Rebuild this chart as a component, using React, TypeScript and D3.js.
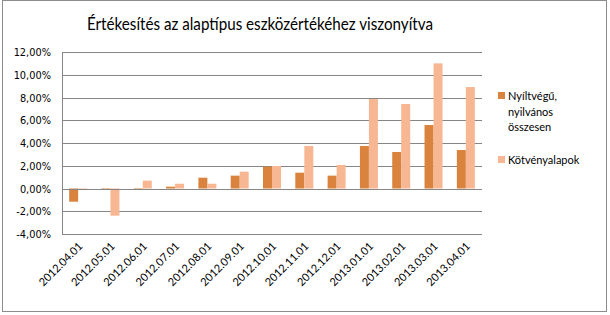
import React from "react";
import * as d3 from "d3";

const categories = [
  "2012.04.01", "2012.05.01", "2012.06.01", "2012.07.01", "2012.08.01", "2012.09.01",
  "2012.10.01", "2012.11.01", "2012.12.01", "2013.01.01", "2013.02.01", "2013.03.01", "2013.04.01",
];
const seriesNames = ["Nyíltvégű, nyilvános összesen", "Kötvényalapok"];
const openEnded = [-1.16, -0.1, -0.12, 0.16, 0.95, 1.13, 1.92, 1.39, 1.13, 3.74, 3.21, 5.58, 3.38];
const bondFunds = [-0.1, -2.39, 0.69, 0.42, 0.42, 1.48, 1.98, 3.74, 2.07, 7.87, 7.43, 11.0, 8.92];
const yTicks = [-4, -2, 0, 2, 4, 6, 8, 10, 12];
const colors = ["#D9833F", "#F8B793"];
const titleText = "Értékesítés az alaptípus eszközértékéhez viszonyítva";

export default function App() {
  const W = 610, H = 315;
  const left = 62, right = 482, top = 52, bottom = 234;
  const x = d3.scaleBand<string>().domain(categories).range([left, right]).paddingInner(0).paddingOuter(0);
  const y = d3.scaleLinear().domain([-4, 12]).range([bottom, top]);
  const inner = d3.scaleBand<number>().domain([0, 1]).range([0, 18]);
  const groupOffset = (x.bandwidth() - 18) / 2;
  const data = [openEnded, bondFunds];
  const fmt = (v: number) => v.toFixed(2).replace(".", ",") + "%";
  const font = "Lato, 'Open Sans', sans-serif";
  const legendLines = ["Nyíltvégű,", "nyilvános", "összesen"];

  return (
    <svg width={W} height={H} style={{ position: "absolute", left: 0, top: 0, background: "#fff" }}>
      <rect x={2.5} y={0.5} width={604} height={311} fill="#fff" stroke="#8c8c8c" />
      <text x={260} y={30} textAnchor="middle" fontFamily={font} fontSize={18} textLength={346} lengthAdjust="spacingAndGlyphs" fill="#000">{titleText}</text>
      {yTicks.map((t) => (
        <g key={t}>
          {t !== 0 && (
            <line x1={left} x2={right} y1={Math.round(y(t)) + 0.5} y2={Math.round(y(t)) + 0.5} stroke="#868686" />
          )}
          <text x={51} y={y(t) + 4} textAnchor="end" fontFamily="'DejaVu Sans', Verdana, sans-serif" fontSize={9.8} fill="#000">{fmt(t)}</text>
        </g>
      ))}
      <line x1={left + 0.5} x2={left + 0.5} y1={top} y2={bottom} stroke="#868686" />
      {data.map((series, si) =>
        series.map((v, i) => {
          const bx = (x(categories[i]) as number) + groupOffset + (inner(si) as number);
          const y0 = y(0), y1 = y(v);
          return (
            <rect key={si + "-" + i} x={bx} width={inner.bandwidth()} y={Math.min(y0, y1)} height={Math.abs(y1 - y0)} fill={colors[si]} />
          );
        })
      )}
      <line x1={left} x2={right} y1={Math.round(y(0)) + 0.5} y2={Math.round(y(0)) + 0.5} stroke="#868686" />
      {categories.map((c) => {
        const cx = (x(c) as number) + x.bandwidth() / 2;
        return (
          <text key={c} transform={`translate(${cx + 5},${bottom + 13}) rotate(-45)`} textAnchor="end" fontFamily={font} fontSize={11} fill="#000">{c}</text>
        );
      })}
      <rect x={498} y={92} width={7} height={7} fill={colors[0]} />
      {legendLines.map((l, i) => (
        <text key={l} x={508} y={100 + i * 15.5} fontFamily={font} fontSize={11} fill="#000">{l}</text>
      ))}
      <rect x={498} y={156} width={7} height={7} fill={colors[1]} />
      <text x={508} y={164} fontFamily={font} fontSize={11} fill="#000">{seriesNames[1]}</text>
    </svg>
  );
}
